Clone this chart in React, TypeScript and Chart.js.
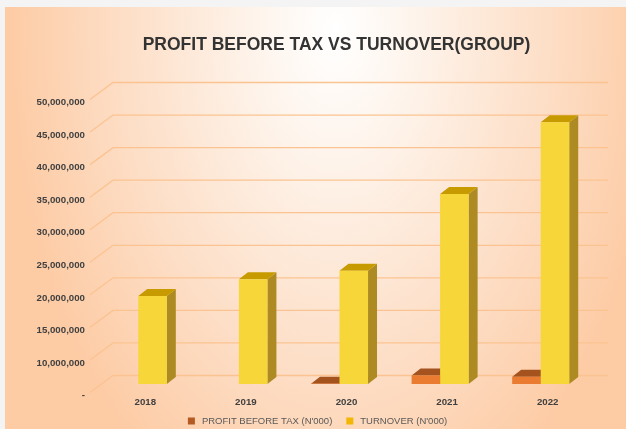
import React, { useEffect, useRef } from "react";
import { Chart, registerables } from "chart.js";

Chart.register(...registerables);

const TITLE = "PROFIT BEFORE TAX VS TURNOVER(GROUP)";
const CATEGORIES = ["2018", "2019", "2020", "2021", "2022"];
const SERIES_NAMES = ["PROFIT BEFORE TAX (N'000)", "TURNOVER (N'000)"];
const PROFIT_BEFORE_TAX: (number | null)[] = [null, null, 50000, 1300000, 1100000];
const TURNOVER: number[] = [18500000, 21100000, 22400000, 34200000, 45200000];
const Y_TICK_VALUES = [5000000, 10000000, 15000000, 20000000, 25000000, 30000000, 35000000, 40000000, 45000000, 50000000];
const Y_TICK_LABELS = ["-", "10,000,000", "15,000,000", "20,000,000", "25,000,000", "30,000,000", "35,000,000", "40,000,000", "45,000,000", "50,000,000"];

const W = 626;
const H = 429;
const FONT = "'Liberation Sans', Arial, sans-serif";

const COLORS = [
  { front: "#E97C30", side: "#B4591E", top: "#A4531F", legend: "#B55A22" },
  { front: "#F6D638", side: "#AE8B22", top: "#C79A00", legend: "#F2B705" },
];
const GRID = "#FBC391";
const BAR_DX = 9;
const BAR_DY = -7;

const deco = {
  id: "deco",
  beforeDraw(chart: any) {
    const ctx = chart.ctx;
    ctx.save();
    ctx.fillStyle = "#F4F4F4";
    ctx.fillRect(0, 0, W, H);
    ctx.beginPath();
    ctx.rect(5, 7, W - 5, H - 7);
    ctx.clip();
    ctx.translate(335, 30);
    ctx.scale(1, 1.6);
    const g = ctx.createRadialGradient(0, 0, 0, 0, 0, 330);
    g.addColorStop(0, "#FFFFFF");
    g.addColorStop(0.2, "#FEF6EF");
    g.addColorStop(0.65, "#FDDEC6");
    g.addColorStop(1, "#FDCBA4");
    ctx.fillStyle = g;
    ctx.fillRect(-400, -100, 800, 400);
    ctx.restore();

    ctx.save();
    ctx.fillStyle = "#333333";
    ctx.font = `bold 17.5px ${FONT}`;
    ctx.textAlign = "center";
    ctx.textBaseline = "middle";
    ctx.fillText(TITLE, 336.5, 45);
    ctx.restore();
  },
  beforeDatasetsDraw(chart: any) {
    const ctx = chart.ctx;
    const { left, right, bottom } = chart.chartArea;
    const y = chart.scales.y;
    ctx.save();
    ctx.strokeStyle = GRID;
    ctx.lineWidth = 1.3;
    y.ticks.forEach((t: any) => {
      const py = y.getPixelForValue(t.value);
      ctx.beginPath();
      ctx.moveTo(left + 2, py + 8.5);
      ctx.lineTo(left + 25, py - 8.5);
      ctx.lineTo(right + 17, py - 8.5);
      ctx.stroke();
    });
    ctx.restore();

    // 3D top and side faces (front faces are drawn by Chart.js)
    ctx.save();
    chart.data.datasets.forEach((ds: any, di: number) => {
      const meta = chart.getDatasetMeta(di);
      meta.data.forEach((el: any, i: number) => {
        if (ds.data[i] === null || ds.data[i] === undefined) return;
        const p = el.getProps(["x", "y", "base", "width"], true);
        const base = Math.min(p.base, bottom);
        const top = Math.min(p.y, base);
        const L = p.x - p.width / 2;
        const R = p.x + p.width / 2;
        ctx.fillStyle = COLORS[di].side;
        ctx.beginPath();
        ctx.moveTo(R, top);
        ctx.lineTo(R + BAR_DX, top + BAR_DY);
        ctx.lineTo(R + BAR_DX, base + BAR_DY);
        ctx.lineTo(R, base);
        ctx.closePath();
        ctx.fill();
        ctx.fillStyle = COLORS[di].top;
        ctx.beginPath();
        ctx.moveTo(L, top);
        ctx.lineTo(L + BAR_DX, top + BAR_DY);
        ctx.lineTo(R + BAR_DX, top + BAR_DY);
        ctx.lineTo(R, top);
        ctx.closePath();
        ctx.fill();
      });
    });
    ctx.restore();
  },
  afterDraw(chart: any) {
    const ctx = chart.ctx;
    const y = chart.scales.y;
    const x = chart.scales.x;
    ctx.save();
    ctx.fillStyle = "#404040";
    ctx.font = `bold 9.7px ${FONT}`;
    ctx.textBaseline = "middle";
    ctx.textAlign = "right";
    y.ticks.forEach((t: any, i: number) => {
      const py = y.getPixelForValue(t.value);
      ctx.fillText(Y_TICK_LABELS[i], 85, py + 11.5);
    });
    ctx.textAlign = "center";
    CATEGORIES.forEach((c, i) => {
      ctx.fillText(c, x.getPixelForValue(i) + 7, 402);
    });

    // legend
    ctx.font = `9.5px ${FONT}`;
    ctx.textAlign = "left";
    const widths = SERIES_NAMES.map((n) => ctx.measureText(n).width);
    const total = widths.reduce((a, b) => a + b, 0) + SERIES_NAMES.length * 14 + 14;
    let lx = 317.5 - total / 2;
    const ly = 421;
    SERIES_NAMES.forEach((n, i) => {
      ctx.fillStyle = COLORS[i].legend;
      ctx.fillRect(lx, ly - 3.5, 7, 7);
      ctx.fillStyle = "#595959";
      ctx.fillText(n, lx + 14, ly);
      lx += 14 + widths[i] + 14;
    });
    ctx.restore();
  },
};

export default function App() {
  const ref = useRef<HTMLCanvasElement | null>(null);
  useEffect(() => {
    document.body.style.margin = "0";
    document.body.style.overflow = "hidden";
    const canvas = ref.current!;
    const chart = new Chart(canvas, {
      type: "bar",
      data: {
        labels: CATEGORIES,
        datasets: [
          {
            label: SERIES_NAMES[0],
            data: PROFIT_BEFORE_TAX,
            backgroundColor: COLORS[0].front,
            yAxisID: "y2",
            categoryPercentage: 0.567,
            barPercentage: 1,
          },
          {
            label: SERIES_NAMES[1],
            data: TURNOVER,
            backgroundColor: COLORS[1].front,
            yAxisID: "y",
            categoryPercentage: 0.567,
            barPercentage: 1,
          },
        ],
      },
      options: {
        responsive: false,
        animation: false,
        devicePixelRatio: 1,
        layout: { padding: { left: 88, right: W - 591, top: 91, bottom: H - 384 } },
        plugins: { legend: { display: false }, title: { display: false }, tooltip: { enabled: false } },
        scales: {
          x: { display: false, grid: { display: false } },
          y: {
            display: false,
            min: Y_TICK_VALUES[0],
            max: Y_TICK_VALUES[Y_TICK_VALUES.length - 1],
            afterBuildTicks: (s: any) => {
              s.ticks = Y_TICK_VALUES.map((v) => ({ value: v }));
            },
          },
          y2: {
            display: false,
            min: 0,
            max: Y_TICK_VALUES[Y_TICK_VALUES.length - 1] - Y_TICK_VALUES[0],
          },
        },
      },
      plugins: [deco],
    });
    return () => chart.destroy();
  }, []);
  return <canvas ref={ref} width={W} height={H} style={{ display: "block", width: W, height: H }} />;
}
